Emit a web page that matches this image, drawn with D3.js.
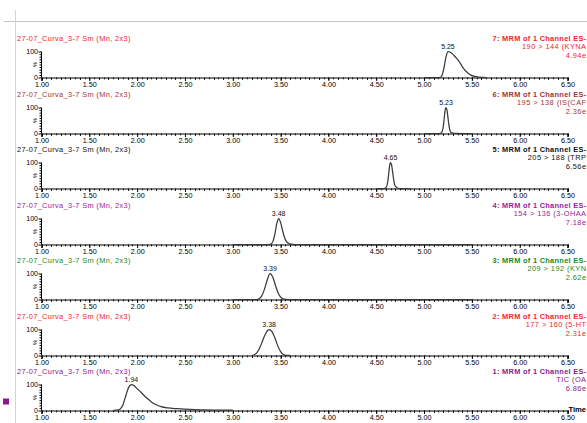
<!DOCTYPE html>
<html>
<head>
<meta charset="utf-8">
<script src="https://cdn.jsdelivr.net/npm/d3@7"></script>
<style>
  html, body { margin: 0; padding: 0; background: #fff; overflow: hidden; }
  svg { display: block; font-family: "Liberation Sans", Arial, sans-serif; }
</style>
</head>
<body>
<svg id="chart" width="587" height="423"></svg>
<script>
// ---------------- data ----------------
const runTitle = "27-07_Curva_3-7 Sm (Mn, 2x3)";
const xTickValues = [1.0, 1.5, 2.0, 2.5, 3.0, 3.5, 4.0, 4.5, 5.0, 5.5, 6.0, 6.5];
// visible parts of the channel header text (the reference crops them at the right edge)
const channelNames = [
  "7: MRM of 1 Channel ES-", "6: MRM of 1 Channel ES-", "5: MRM of 1 Channel ES-",
  "4: MRM of 1 Channel ES-", "3: MRM of 1 Channel ES-", "2: MRM of 1 Channel ES-",
  "1: MRM of 1 Channel ES-"
];
const transitions = [
  "190 > 144 (KYNA", "195 > 138 (IS(CAF", "205 > 188 (TRP",
  "154 > 136 (3-OHAA", "209 > 192 (KYN", "177 > 160 (5-HT", "TIC (OA"
];
const intensities = ["4.94e", "2.36e", "6.56e", "7.18e", "2.62e", "2.31e", "6.86e"];
const peakTimes = [5.25, 5.23, 4.65, 3.48, 3.39, 3.38, 1.94];
const peakLabels = ["5.25", "5.23", "4.65", "3.48", "3.39", "3.38", "1.94"];

// traces: [retention time (min), relative intensity (%)]
const traceKYNA = [[5.00,0],[5.15,0],[5.17,1],[5.19,10],[5.21,40],[5.23,80],[5.25,100],[5.27,98],[5.30,90],[5.33,78],[5.36,65],[5.38,54],[5.41,36],[5.45,20],[5.49,9],[5.53,4],[5.57,1.5],[5.61,0.5],[5.65,0]];
const traceCAF  = [[5.00,0],[5.15,0],[5.17,1],[5.19,8],[5.20,25],[5.21,55],[5.22,88],[5.23,100],[5.24,90],[5.25,62],[5.26,32],[5.27,13],[5.28,5],[5.30,2],[5.33,0.5],[5.40,0],[5.50,0]];
const traceTRP  = [[4.50,0],[4.58,0],[4.60,3],[4.62,25],[4.63,55],[4.64,88],[4.65,100],[4.66,92],[4.67,68],[4.68,40],[4.69,18],[4.71,5],[4.73,1],[4.76,0],[4.85,0]];
const traceOHAA = [[3.00,0],[3.38,0],[3.40,2],[3.42,12],[3.44,40],[3.46,80],[3.48,100],[3.50,85],[3.52,55],[3.54,28],[3.56,12],[3.58,5],[3.61,1],[3.65,0],[5.50,0]];
const traceKYN  = [[3.00,0],[3.25,0],[3.27,2],[3.30,12],[3.33,38],[3.36,75],[3.39,100],[3.42,85],[3.45,50],[3.48,20],[3.51,6],[3.54,1],[3.58,0],[5.50,0]];
const trace5HT  = [[3.20,0],[3.22,2],[3.25,10],[3.28,28],[3.31,55],[3.34,82],[3.37,98],[3.38,100],[3.41,92],[3.44,68],[3.47,38],[3.50,15],[3.53,4],[3.56,0.5],[3.60,0]];
const traceTIC  = [[1.75,0],[1.78,1],[1.82,5],[1.85,20],[1.88,55],[1.91,88],[1.94,100],[1.97,95],[2.00,84],[2.04,70],[2.08,55],[2.12,42],[2.16,30],[2.20,22],[2.25,15],[2.32,10],[2.42,7],[2.55,4],[2.70,2.5],[2.85,1.5],[3.00,1]];
const traces = [traceKYNA, traceCAF, traceTRP, traceOHAA, traceKYN, trace5HT, traceTIC];

// ---------------- style ----------------
const panelColors = ["#f0262b", "#a53434", "#111111", "#a0209c", "#178a17", "#f0262b", "#8a1b8a"];
const svg = d3.select("#chart");
const W = 587, H = 423;
const x = d3.scaleLinear().domain([1.0, 6.5]).range([41.5, 567.5]);
const firstBase = 77, panelStep = 55.55, panelH = 26;

// frame lines
svg.append("line").attr("x1", 4).attr("x2", W).attr("y1", 21.5).attr("y2", 21.5)
  .attr("stroke", "#c4c4c4").attr("stroke-width", 1);
svg.append("line").attr("x1", 15.5).attr("x2", 15.5).attr("y1", 10).attr("y2", H)
  .attr("stroke", "#d4d4d4").attr("stroke-width", 1);

const minorTicks = d3.range(1.0, 6.5001, 0.05).map(v => +v.toFixed(2));
const line = d3.line().curve(d3.curveMonotoneX);

traces.forEach((tr, i) => {
  const yb = Math.round(firstBase + i * panelStep) + 0.5;
  const y = d3.scaleLinear().domain([0, 100]).range([yb, yb - panelH]);
  const g = svg.append("g");
  const col = panelColors[i];

  // left title
  g.append("text").attr("x", 17).attr("y", yb - 37).attr("font-size", 7.4)
    .attr("fill", col).attr("letter-spacing", 0.35).text(runTitle);

  // right texts, right-aligned at the window edge
  const rx = 586.5;
  [channelNames[i], transitions[i], intensities[i]].forEach((t, k) => {
    g.append("text").attr("x", rx).attr("y", yb - 37 + k * 8.6)
      .attr("text-anchor", "end").attr("font-size", 7.4)
      .attr("font-weight", k === 0 ? "bold" : "normal")
      .attr("letter-spacing", k === 0 ? 0.3 : 0.45)
      .attr("fill", col).text(t);
  });

  // x axis minor ticks
  g.append("g").selectAll("line").data(minorTicks).join("line")
    .attr("x1", d => Math.round(x(d)) + 0.5).attr("x2", d => Math.round(x(d)) + 0.5)
    .attr("y1", yb).attr("y2", d => yb + (Math.abs(d * 10 - Math.round(d * 10)) < 1e-6 ? 2.5 : 1.8))
    .attr("stroke", "#000").attr("stroke-width", 0.9);

  // x axis
  const xa = g.append("g").attr("transform", `translate(0,${yb})`)
    .call(d3.axisBottom(x).tickValues(xTickValues).tickFormat(d3.format(".2f"))
      .tickSize(3.5).tickPadding(1.2));
  xa.select(".domain").attr("stroke-width", 1.1);
  xa.selectAll("text").attr("font-size", 7.2).attr("font-family", "Liberation Sans, Arial, sans-serif");

  // y axis
  const ya = g.append("g").attr("transform", `translate(${x(1.0)},0)`)
    .call(d3.axisLeft(y).tickValues(d3.range(0, 101, 10)).tickSize(2)
      .tickFormat(d => (d === 0 || d === 100) ? d : ""));
  ya.selectAll(".tick line").attr("x2", d => (d === 0 || d === 100) ? -3 : -2);
  ya.select(".domain").attr("d", `M0,${yb}V${yb - panelH}`);
  ya.selectAll("text").attr("font-size", 7).attr("x", -3.5)
    .attr("font-family", "Liberation Sans, Arial, sans-serif");
  g.append("text").attr("transform", `translate(36.5,${yb - panelH / 2}) rotate(-90)`)
    .attr("text-anchor", "middle").attr("font-size", 6).attr("fill", "#000").text("%");

  // trace
  g.append("path").datum(tr.map(d => [x(d[0]), y(d[1])]))
    .attr("d", line).attr("fill", "none").attr("stroke", "#3a3a3a").attr("stroke-width", 1.25);

  // peak label
  g.append("text").attr("x", x(peakTimes[i])).attr("y", y(100) - 2.5)
    .attr("text-anchor", "middle").attr("font-size", 7).attr("fill", "#111").text(peakLabels[i]);
});

// legend marker and axis title on the last panel
const lastBase = Math.round(firstBase + 6 * panelStep) + 0.5;
svg.append("rect").attr("x", 3).attr("y", lastBase - 12).attr("width", 6).attr("height", 6)
  .attr("fill", panelColors[6]);
svg.append("text").attr("x", 586).attr("y", lastBase + 1).attr("font-size", 7.6)
  .attr("text-anchor", "end").attr("font-weight", "bold").attr("fill", "#000").text("Time");
</script>
</body>
</html>
